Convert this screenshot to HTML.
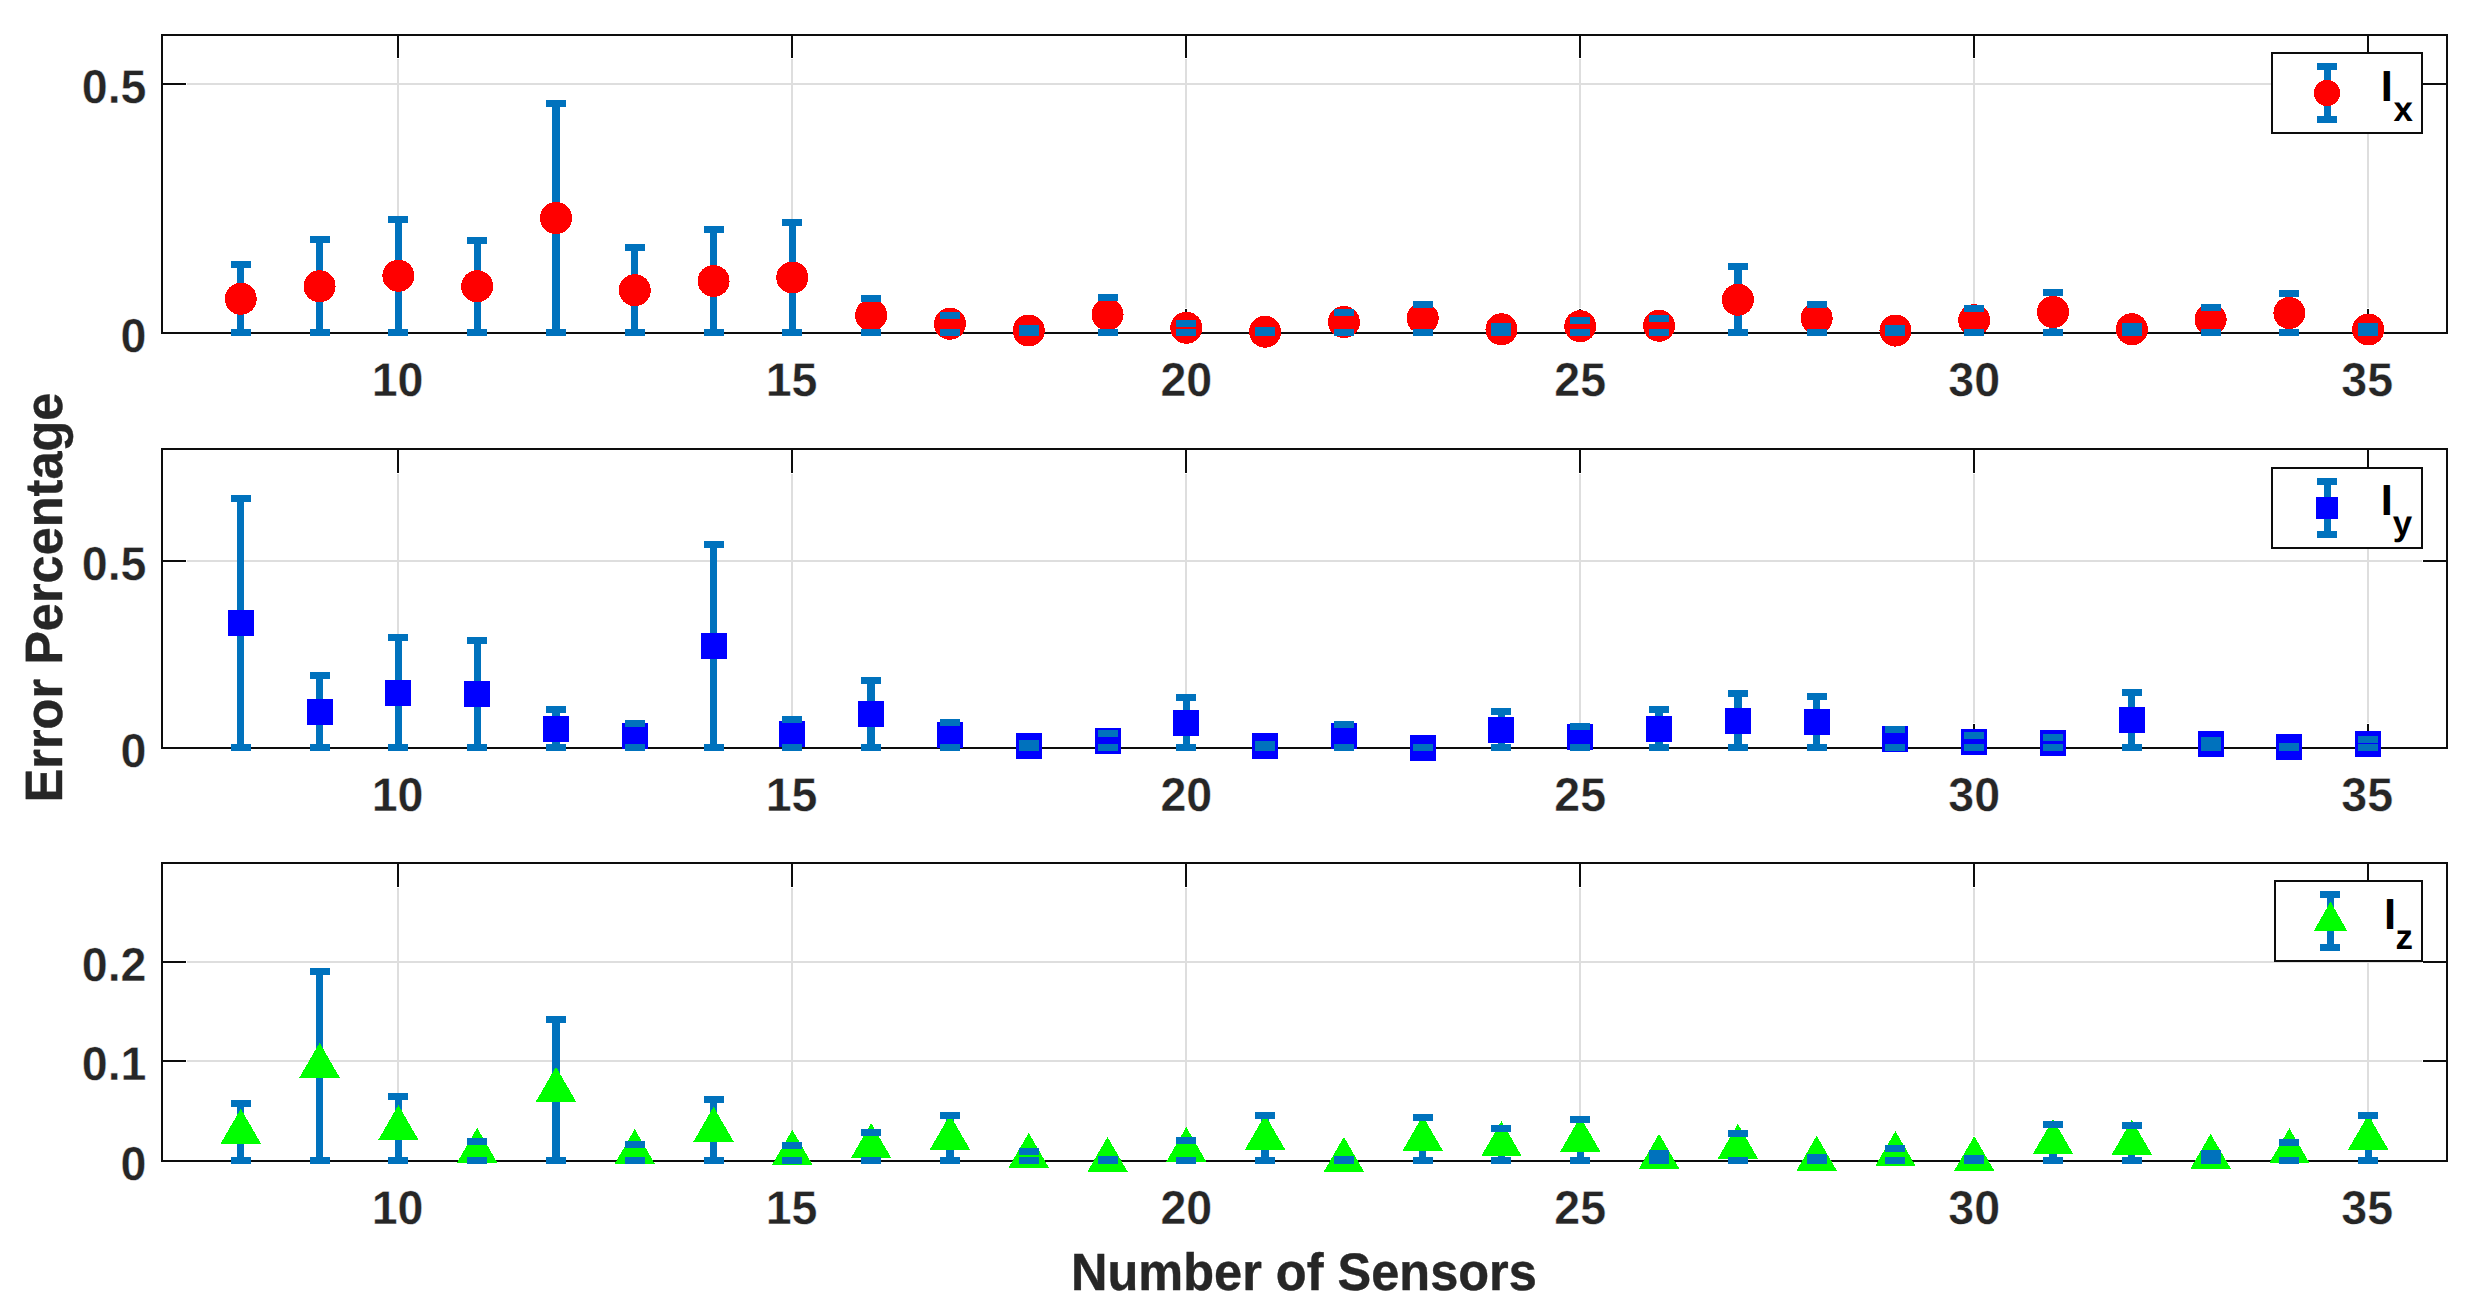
<!DOCTYPE html>
<html lang="en"><head><meta charset="utf-8"><title>Error Percentage vs Number of Sensors</title>
<style>html,body{margin:0;padding:0;background:#fff}svg{display:block}text{font-family:"Liberation Sans",sans-serif;font-weight:bold;text-rendering:geometricPrecision}.t{font-size:46.6px;fill:#262626;stroke:#fff;stroke-width:0.4px}.l{font-size:50.5px;fill:#262626;stroke:#262626;stroke-width:0.4px}.g{font-size:43.5px;fill:#000}.s{font-size:34.9px;fill:#000}</style></head><body>
<svg width="2492" height="1314" viewBox="0 0 2492 1314">
<rect width="2492" height="1314" fill="#fff"/>
<g shape-rendering="crispEdges">
<rect x="397" y="59" width="2" height="249" fill="#dedede"/>
<rect x="791" y="59" width="2" height="249" fill="#dedede"/>
<rect x="1185" y="59" width="2" height="249" fill="#dedede"/>
<rect x="1579" y="59" width="2" height="249" fill="#dedede"/>
<rect x="1973" y="59" width="2" height="249" fill="#dedede"/>
<rect x="2367" y="59" width="2" height="249" fill="#dedede"/>
<rect x="187" y="83" width="2235" height="2" fill="#dedede"/>
<rect x="162" y="35" width="2285" height="298" fill="none" stroke="#0d0d0d" stroke-width="2"/>
<rect x="397" y="309" width="2" height="24" fill="#0d0d0d"/>
<rect x="397" y="35" width="2" height="23" fill="#0d0d0d"/>
<rect x="791" y="309" width="2" height="24" fill="#0d0d0d"/>
<rect x="791" y="35" width="2" height="23" fill="#0d0d0d"/>
<rect x="1185" y="309" width="2" height="24" fill="#0d0d0d"/>
<rect x="1185" y="35" width="2" height="23" fill="#0d0d0d"/>
<rect x="1579" y="309" width="2" height="24" fill="#0d0d0d"/>
<rect x="1579" y="35" width="2" height="23" fill="#0d0d0d"/>
<rect x="1973" y="309" width="2" height="24" fill="#0d0d0d"/>
<rect x="1973" y="35" width="2" height="23" fill="#0d0d0d"/>
<rect x="2367" y="309" width="2" height="24" fill="#0d0d0d"/>
<rect x="2367" y="35" width="2" height="23" fill="#0d0d0d"/>
<rect x="162" y="83" width="24" height="2" fill="#0d0d0d"/>
<rect x="2423" y="83" width="24" height="2" fill="#0d0d0d"/>
<rect x="237" y="261" width="7" height="75" fill="#0072bd"/>
<rect x="316" y="236" width="7" height="100" fill="#0072bd"/>
<rect x="395" y="216" width="7" height="120" fill="#0072bd"/>
<rect x="474" y="237" width="7" height="99" fill="#0072bd"/>
<rect x="552" y="100" width="8" height="236" fill="#0072bd"/>
<rect x="631" y="244" width="7" height="92" fill="#0072bd"/>
<rect x="710" y="226" width="7" height="110" fill="#0072bd"/>
<rect x="789" y="219" width="7" height="117" fill="#0072bd"/>
<rect x="867" y="295" width="8" height="41" fill="#0072bd"/>
<rect x="946" y="312" width="8" height="24" fill="#0072bd"/>
<rect x="1025" y="325" width="7" height="11" fill="#0072bd"/>
<rect x="1104" y="294" width="7" height="42" fill="#0072bd"/>
<rect x="1183" y="320" width="7" height="16" fill="#0072bd"/>
<rect x="1261" y="327" width="8" height="9" fill="#0072bd"/>
<rect x="1340" y="309" width="8" height="27" fill="#0072bd"/>
<rect x="1419" y="301" width="7" height="35" fill="#0072bd"/>
<rect x="1498" y="323" width="7" height="13" fill="#0072bd"/>
<rect x="1577" y="317" width="7" height="19" fill="#0072bd"/>
<rect x="1655" y="315" width="8" height="21" fill="#0072bd"/>
<rect x="1734" y="263" width="8" height="73" fill="#0072bd"/>
<rect x="1813" y="301" width="7" height="35" fill="#0072bd"/>
<rect x="1892" y="325" width="7" height="11" fill="#0072bd"/>
<rect x="1971" y="305" width="7" height="31" fill="#0072bd"/>
<rect x="2049" y="289" width="8" height="47" fill="#0072bd"/>
<rect x="2128" y="323" width="7" height="13" fill="#0072bd"/>
<rect x="2207" y="304" width="7" height="32" fill="#0072bd"/>
<rect x="2286" y="290" width="7" height="46" fill="#0072bd"/>
<rect x="2365" y="323" width="7" height="13" fill="#0072bd"/>
<circle cx="240.79" cy="298.75" r="16" fill="#ff0000"/>
<circle cx="319.59" cy="286.25" r="16" fill="#ff0000"/>
<circle cx="398.38" cy="275.75" r="16" fill="#ff0000"/>
<circle cx="477.17" cy="286.25" r="16" fill="#ff0000"/>
<circle cx="555.97" cy="218" r="16" fill="#ff0000"/>
<circle cx="634.76" cy="290.25" r="16" fill="#ff0000"/>
<circle cx="713.55" cy="281" r="16" fill="#ff0000"/>
<circle cx="792.34" cy="277.5" r="16" fill="#ff0000"/>
<circle cx="871.14" cy="315.25" r="16" fill="#ff0000"/>
<circle cx="949.93" cy="323.75" r="16" fill="#ff0000"/>
<circle cx="1028.72" cy="330.5" r="16" fill="#ff0000"/>
<circle cx="1107.52" cy="314.5" r="16" fill="#ff0000"/>
<circle cx="1186.31" cy="327.75" r="16" fill="#ff0000"/>
<circle cx="1265.1" cy="331.75" r="16" fill="#ff0000"/>
<circle cx="1343.9" cy="322" r="16" fill="#ff0000"/>
<circle cx="1422.69" cy="318.25" r="16" fill="#ff0000"/>
<circle cx="1501.48" cy="329.25" r="16" fill="#ff0000"/>
<circle cx="1580.28" cy="326.25" r="16" fill="#ff0000"/>
<circle cx="1659.07" cy="325.75" r="16" fill="#ff0000"/>
<circle cx="1737.86" cy="299.75" r="16" fill="#ff0000"/>
<circle cx="1816.66" cy="318.25" r="16" fill="#ff0000"/>
<circle cx="1895.45" cy="330.6" r="16" fill="#ff0000"/>
<circle cx="1974.24" cy="320.25" r="16" fill="#ff0000"/>
<circle cx="2053.03" cy="312" r="16" fill="#ff0000"/>
<circle cx="2131.83" cy="329.25" r="16" fill="#ff0000"/>
<circle cx="2210.62" cy="319.5" r="16" fill="#ff0000"/>
<circle cx="2289.41" cy="313" r="16" fill="#ff0000"/>
<circle cx="2368.21" cy="329.5" r="16" fill="#ff0000"/>
<rect x="231" y="261" width="20" height="7" fill="#0072bd"/>
<rect x="231" y="329" width="20" height="7" fill="#0072bd"/>
<rect x="310" y="236" width="20" height="7" fill="#0072bd"/>
<rect x="310" y="329" width="20" height="7" fill="#0072bd"/>
<rect x="388" y="216" width="20" height="7" fill="#0072bd"/>
<rect x="388" y="329" width="20" height="7" fill="#0072bd"/>
<rect x="467" y="237" width="20" height="7" fill="#0072bd"/>
<rect x="467" y="329" width="20" height="7" fill="#0072bd"/>
<rect x="546" y="100" width="20" height="7" fill="#0072bd"/>
<rect x="546" y="329" width="20" height="7" fill="#0072bd"/>
<rect x="625" y="244" width="20" height="7" fill="#0072bd"/>
<rect x="625" y="329" width="20" height="7" fill="#0072bd"/>
<rect x="704" y="226" width="20" height="7" fill="#0072bd"/>
<rect x="704" y="329" width="20" height="7" fill="#0072bd"/>
<rect x="782" y="219" width="20" height="7" fill="#0072bd"/>
<rect x="782" y="329" width="20" height="7" fill="#0072bd"/>
<rect x="861" y="295" width="20" height="7" fill="#0072bd"/>
<rect x="861" y="329" width="20" height="7" fill="#0072bd"/>
<rect x="940" y="312" width="20" height="7" fill="#0072bd"/>
<rect x="940" y="329" width="20" height="7" fill="#0072bd"/>
<rect x="1019" y="325" width="20" height="7" fill="#0072bd"/>
<rect x="1019" y="329" width="20" height="7" fill="#0072bd"/>
<rect x="1098" y="294" width="20" height="7" fill="#0072bd"/>
<rect x="1098" y="329" width="20" height="7" fill="#0072bd"/>
<rect x="1176" y="320" width="20" height="7" fill="#0072bd"/>
<rect x="1176" y="329" width="20" height="7" fill="#0072bd"/>
<rect x="1255" y="327" width="20" height="7" fill="#0072bd"/>
<rect x="1255" y="329" width="20" height="7" fill="#0072bd"/>
<rect x="1334" y="309" width="20" height="7" fill="#0072bd"/>
<rect x="1334" y="329" width="20" height="7" fill="#0072bd"/>
<rect x="1413" y="301" width="20" height="7" fill="#0072bd"/>
<rect x="1413" y="329" width="20" height="7" fill="#0072bd"/>
<rect x="1491" y="323" width="20" height="7" fill="#0072bd"/>
<rect x="1491" y="329" width="20" height="7" fill="#0072bd"/>
<rect x="1570" y="317" width="20" height="7" fill="#0072bd"/>
<rect x="1570" y="329" width="20" height="7" fill="#0072bd"/>
<rect x="1649" y="315" width="20" height="7" fill="#0072bd"/>
<rect x="1649" y="329" width="20" height="7" fill="#0072bd"/>
<rect x="1728" y="263" width="20" height="7" fill="#0072bd"/>
<rect x="1728" y="329" width="20" height="7" fill="#0072bd"/>
<rect x="1807" y="301" width="20" height="7" fill="#0072bd"/>
<rect x="1807" y="329" width="20" height="7" fill="#0072bd"/>
<rect x="1885" y="325" width="20" height="7" fill="#0072bd"/>
<rect x="1885" y="329" width="20" height="7" fill="#0072bd"/>
<rect x="1964" y="305" width="20" height="7" fill="#0072bd"/>
<rect x="1964" y="329" width="20" height="7" fill="#0072bd"/>
<rect x="2043" y="289" width="20" height="7" fill="#0072bd"/>
<rect x="2043" y="329" width="20" height="7" fill="#0072bd"/>
<rect x="2122" y="323" width="20" height="7" fill="#0072bd"/>
<rect x="2122" y="329" width="20" height="7" fill="#0072bd"/>
<rect x="2201" y="304" width="20" height="7" fill="#0072bd"/>
<rect x="2201" y="329" width="20" height="7" fill="#0072bd"/>
<rect x="2279" y="290" width="20" height="7" fill="#0072bd"/>
<rect x="2279" y="329" width="20" height="7" fill="#0072bd"/>
<rect x="2358" y="323" width="20" height="7" fill="#0072bd"/>
<rect x="2358" y="329" width="20" height="7" fill="#0072bd"/>
</g>
<text class="t" transform="translate(397.58,396.3) scale(1,1.02)" text-anchor="middle">10</text>
<text class="t" transform="translate(791.54,396.3) scale(1,1.02)" text-anchor="middle">15</text>
<text class="t" transform="translate(1186.31,396.3) scale(1,1.02)" text-anchor="middle">20</text>
<text class="t" transform="translate(1580.28,396.3) scale(1,1.02)" text-anchor="middle">25</text>
<text class="t" transform="translate(1974.24,396.3) scale(1,1.02)" text-anchor="middle">30</text>
<text class="t" transform="translate(2367.21,396.3) scale(1,1.02)" text-anchor="middle">35</text>
<text class="t" transform="translate(146.5,351.9) scale(1,1.02)" text-anchor="end">0</text>
<text class="t" transform="translate(146.5,102.9) scale(1,1.02)" text-anchor="end">0.5</text>
<g shape-rendering="crispEdges">
<rect x="397" y="474" width="2" height="249" fill="#dedede"/>
<rect x="791" y="474" width="2" height="249" fill="#dedede"/>
<rect x="1185" y="474" width="2" height="249" fill="#dedede"/>
<rect x="1579" y="474" width="2" height="249" fill="#dedede"/>
<rect x="1973" y="474" width="2" height="249" fill="#dedede"/>
<rect x="2367" y="474" width="2" height="249" fill="#dedede"/>
<rect x="187" y="560" width="2235" height="2" fill="#dedede"/>
<rect x="162" y="449" width="2285" height="299" fill="none" stroke="#0d0d0d" stroke-width="2"/>
<rect x="397" y="724" width="2" height="24" fill="#0d0d0d"/>
<rect x="397" y="449" width="2" height="24" fill="#0d0d0d"/>
<rect x="791" y="724" width="2" height="24" fill="#0d0d0d"/>
<rect x="791" y="449" width="2" height="24" fill="#0d0d0d"/>
<rect x="1185" y="724" width="2" height="24" fill="#0d0d0d"/>
<rect x="1185" y="449" width="2" height="24" fill="#0d0d0d"/>
<rect x="1579" y="724" width="2" height="24" fill="#0d0d0d"/>
<rect x="1579" y="449" width="2" height="24" fill="#0d0d0d"/>
<rect x="1973" y="724" width="2" height="24" fill="#0d0d0d"/>
<rect x="1973" y="449" width="2" height="24" fill="#0d0d0d"/>
<rect x="2367" y="724" width="2" height="24" fill="#0d0d0d"/>
<rect x="2367" y="449" width="2" height="24" fill="#0d0d0d"/>
<rect x="162" y="560" width="24" height="2" fill="#0d0d0d"/>
<rect x="2423" y="560" width="24" height="2" fill="#0d0d0d"/>
<rect x="237" y="495" width="7" height="256" fill="#0072bd"/>
<rect x="316" y="672" width="7" height="79" fill="#0072bd"/>
<rect x="395" y="634" width="7" height="117" fill="#0072bd"/>
<rect x="474" y="637" width="7" height="114" fill="#0072bd"/>
<rect x="552" y="706" width="8" height="45" fill="#0072bd"/>
<rect x="631" y="720" width="7" height="31" fill="#0072bd"/>
<rect x="710" y="541" width="7" height="210" fill="#0072bd"/>
<rect x="789" y="716" width="7" height="35" fill="#0072bd"/>
<rect x="867" y="677" width="8" height="74" fill="#0072bd"/>
<rect x="946" y="719" width="8" height="32" fill="#0072bd"/>
<rect x="1025" y="740" width="7" height="11" fill="#0072bd"/>
<rect x="1104" y="730" width="7" height="21" fill="#0072bd"/>
<rect x="1183" y="694" width="7" height="57" fill="#0072bd"/>
<rect x="1261" y="741" width="8" height="10" fill="#0072bd"/>
<rect x="1340" y="721" width="8" height="30" fill="#0072bd"/>
<rect x="1419" y="744" width="7" height="7" fill="#0072bd"/>
<rect x="1498" y="708" width="7" height="43" fill="#0072bd"/>
<rect x="1577" y="723" width="7" height="28" fill="#0072bd"/>
<rect x="1655" y="706" width="8" height="45" fill="#0072bd"/>
<rect x="1734" y="690" width="8" height="61" fill="#0072bd"/>
<rect x="1813" y="693" width="7" height="58" fill="#0072bd"/>
<rect x="1892" y="726" width="7" height="25" fill="#0072bd"/>
<rect x="1971" y="732" width="7" height="19" fill="#0072bd"/>
<rect x="2049" y="734" width="8" height="17" fill="#0072bd"/>
<rect x="2128" y="689" width="7" height="62" fill="#0072bd"/>
<rect x="2207" y="737" width="7" height="14" fill="#0072bd"/>
<rect x="2286" y="743" width="7" height="8" fill="#0072bd"/>
<rect x="2365" y="736" width="7" height="15" fill="#0072bd"/>
<rect x="228" y="610" width="26" height="26" fill="#0000ff"/>
<rect x="307" y="699" width="26" height="26" fill="#0000ff"/>
<rect x="385" y="680" width="26" height="26" fill="#0000ff"/>
<rect x="464" y="681" width="26" height="26" fill="#0000ff"/>
<rect x="543" y="716" width="26" height="26" fill="#0000ff"/>
<rect x="622" y="723" width="26" height="26" fill="#0000ff"/>
<rect x="701" y="633" width="26" height="26" fill="#0000ff"/>
<rect x="779" y="721" width="26" height="26" fill="#0000ff"/>
<rect x="858" y="701" width="26" height="26" fill="#0000ff"/>
<rect x="937" y="722" width="26" height="26" fill="#0000ff"/>
<rect x="1016" y="733" width="26" height="26" fill="#0000ff"/>
<rect x="1095" y="728" width="26" height="26" fill="#0000ff"/>
<rect x="1173" y="710" width="26" height="26" fill="#0000ff"/>
<rect x="1252" y="733" width="26" height="26" fill="#0000ff"/>
<rect x="1331" y="723" width="26" height="26" fill="#0000ff"/>
<rect x="1410" y="735" width="26" height="26" fill="#0000ff"/>
<rect x="1488" y="717" width="26" height="26" fill="#0000ff"/>
<rect x="1567" y="724" width="26" height="26" fill="#0000ff"/>
<rect x="1646" y="716" width="26" height="26" fill="#0000ff"/>
<rect x="1725" y="708" width="26" height="26" fill="#0000ff"/>
<rect x="1804" y="709" width="26" height="26" fill="#0000ff"/>
<rect x="1882" y="726" width="26" height="26" fill="#0000ff"/>
<rect x="1961" y="729" width="26" height="26" fill="#0000ff"/>
<rect x="2040" y="730" width="26" height="26" fill="#0000ff"/>
<rect x="2119" y="707" width="26" height="26" fill="#0000ff"/>
<rect x="2198" y="731" width="26" height="26" fill="#0000ff"/>
<rect x="2276" y="734" width="26" height="26" fill="#0000ff"/>
<rect x="2355" y="731" width="26" height="26" fill="#0000ff"/>
<rect x="231" y="495" width="20" height="7" fill="#0072bd"/>
<rect x="231" y="744" width="20" height="7" fill="#0072bd"/>
<rect x="310" y="672" width="20" height="7" fill="#0072bd"/>
<rect x="310" y="744" width="20" height="7" fill="#0072bd"/>
<rect x="388" y="634" width="20" height="7" fill="#0072bd"/>
<rect x="388" y="744" width="20" height="7" fill="#0072bd"/>
<rect x="467" y="637" width="20" height="7" fill="#0072bd"/>
<rect x="467" y="744" width="20" height="7" fill="#0072bd"/>
<rect x="546" y="706" width="20" height="7" fill="#0072bd"/>
<rect x="546" y="744" width="20" height="7" fill="#0072bd"/>
<rect x="625" y="720" width="20" height="7" fill="#0072bd"/>
<rect x="625" y="744" width="20" height="7" fill="#0072bd"/>
<rect x="704" y="541" width="20" height="7" fill="#0072bd"/>
<rect x="704" y="744" width="20" height="7" fill="#0072bd"/>
<rect x="782" y="716" width="20" height="7" fill="#0072bd"/>
<rect x="782" y="744" width="20" height="7" fill="#0072bd"/>
<rect x="861" y="677" width="20" height="7" fill="#0072bd"/>
<rect x="861" y="744" width="20" height="7" fill="#0072bd"/>
<rect x="940" y="719" width="20" height="7" fill="#0072bd"/>
<rect x="940" y="744" width="20" height="7" fill="#0072bd"/>
<rect x="1019" y="740" width="20" height="7" fill="#0072bd"/>
<rect x="1019" y="744" width="20" height="7" fill="#0072bd"/>
<rect x="1098" y="730" width="20" height="7" fill="#0072bd"/>
<rect x="1098" y="744" width="20" height="7" fill="#0072bd"/>
<rect x="1176" y="694" width="20" height="7" fill="#0072bd"/>
<rect x="1176" y="744" width="20" height="7" fill="#0072bd"/>
<rect x="1255" y="741" width="20" height="7" fill="#0072bd"/>
<rect x="1255" y="744" width="20" height="7" fill="#0072bd"/>
<rect x="1334" y="721" width="20" height="7" fill="#0072bd"/>
<rect x="1334" y="744" width="20" height="7" fill="#0072bd"/>
<rect x="1413" y="744" width="20" height="7" fill="#0072bd"/>
<rect x="1413" y="744" width="20" height="7" fill="#0072bd"/>
<rect x="1491" y="708" width="20" height="7" fill="#0072bd"/>
<rect x="1491" y="744" width="20" height="7" fill="#0072bd"/>
<rect x="1570" y="723" width="20" height="7" fill="#0072bd"/>
<rect x="1570" y="744" width="20" height="7" fill="#0072bd"/>
<rect x="1649" y="706" width="20" height="7" fill="#0072bd"/>
<rect x="1649" y="744" width="20" height="7" fill="#0072bd"/>
<rect x="1728" y="690" width="20" height="7" fill="#0072bd"/>
<rect x="1728" y="744" width="20" height="7" fill="#0072bd"/>
<rect x="1807" y="693" width="20" height="7" fill="#0072bd"/>
<rect x="1807" y="744" width="20" height="7" fill="#0072bd"/>
<rect x="1885" y="726" width="20" height="7" fill="#0072bd"/>
<rect x="1885" y="744" width="20" height="7" fill="#0072bd"/>
<rect x="1964" y="732" width="20" height="7" fill="#0072bd"/>
<rect x="1964" y="744" width="20" height="7" fill="#0072bd"/>
<rect x="2043" y="734" width="20" height="7" fill="#0072bd"/>
<rect x="2043" y="744" width="20" height="7" fill="#0072bd"/>
<rect x="2122" y="689" width="20" height="7" fill="#0072bd"/>
<rect x="2122" y="744" width="20" height="7" fill="#0072bd"/>
<rect x="2201" y="737" width="20" height="7" fill="#0072bd"/>
<rect x="2201" y="744" width="20" height="7" fill="#0072bd"/>
<rect x="2279" y="743" width="20" height="7" fill="#0072bd"/>
<rect x="2279" y="744" width="20" height="7" fill="#0072bd"/>
<rect x="2358" y="736" width="20" height="7" fill="#0072bd"/>
<rect x="2358" y="744" width="20" height="7" fill="#0072bd"/>
</g>
<text class="t" transform="translate(397.58,811.3) scale(1,1.02)" text-anchor="middle">10</text>
<text class="t" transform="translate(791.54,811.3) scale(1,1.02)" text-anchor="middle">15</text>
<text class="t" transform="translate(1186.31,811.3) scale(1,1.02)" text-anchor="middle">20</text>
<text class="t" transform="translate(1580.28,811.3) scale(1,1.02)" text-anchor="middle">25</text>
<text class="t" transform="translate(1974.24,811.3) scale(1,1.02)" text-anchor="middle">30</text>
<text class="t" transform="translate(2367.21,811.3) scale(1,1.02)" text-anchor="middle">35</text>
<text class="t" transform="translate(146.5,766.9) scale(1,1.02)" text-anchor="end">0</text>
<text class="t" transform="translate(146.5,579.9) scale(1,1.02)" text-anchor="end">0.5</text>
<g shape-rendering="crispEdges">
<rect x="397" y="888" width="2" height="248" fill="#dedede"/>
<rect x="791" y="888" width="2" height="248" fill="#dedede"/>
<rect x="1185" y="888" width="2" height="248" fill="#dedede"/>
<rect x="1579" y="888" width="2" height="248" fill="#dedede"/>
<rect x="1973" y="888" width="2" height="248" fill="#dedede"/>
<rect x="2367" y="888" width="2" height="248" fill="#dedede"/>
<rect x="187" y="1060" width="2235" height="2" fill="#dedede"/>
<rect x="187" y="961" width="2235" height="2" fill="#dedede"/>
<rect x="162" y="863" width="2285" height="298" fill="none" stroke="#0d0d0d" stroke-width="2"/>
<rect x="397" y="1137" width="2" height="24" fill="#0d0d0d"/>
<rect x="397" y="863" width="2" height="24" fill="#0d0d0d"/>
<rect x="791" y="1137" width="2" height="24" fill="#0d0d0d"/>
<rect x="791" y="863" width="2" height="24" fill="#0d0d0d"/>
<rect x="1185" y="1137" width="2" height="24" fill="#0d0d0d"/>
<rect x="1185" y="863" width="2" height="24" fill="#0d0d0d"/>
<rect x="1579" y="1137" width="2" height="24" fill="#0d0d0d"/>
<rect x="1579" y="863" width="2" height="24" fill="#0d0d0d"/>
<rect x="1973" y="1137" width="2" height="24" fill="#0d0d0d"/>
<rect x="1973" y="863" width="2" height="24" fill="#0d0d0d"/>
<rect x="2367" y="1137" width="2" height="24" fill="#0d0d0d"/>
<rect x="2367" y="863" width="2" height="24" fill="#0d0d0d"/>
<rect x="162" y="1060" width="24" height="2" fill="#0d0d0d"/>
<rect x="2423" y="1060" width="24" height="2" fill="#0d0d0d"/>
<rect x="162" y="961" width="24" height="2" fill="#0d0d0d"/>
<rect x="2423" y="961" width="24" height="2" fill="#0d0d0d"/>
<rect x="237" y="1100" width="7" height="64" fill="#0072bd"/>
<rect x="316" y="968" width="7" height="196" fill="#0072bd"/>
<rect x="395" y="1093" width="7" height="71" fill="#0072bd"/>
<rect x="474" y="1138" width="7" height="26" fill="#0072bd"/>
<rect x="552" y="1016" width="8" height="148" fill="#0072bd"/>
<rect x="631" y="1141" width="7" height="23" fill="#0072bd"/>
<rect x="710" y="1096" width="7" height="68" fill="#0072bd"/>
<rect x="789" y="1142" width="7" height="22" fill="#0072bd"/>
<rect x="867" y="1129" width="8" height="35" fill="#0072bd"/>
<rect x="946" y="1112" width="8" height="52" fill="#0072bd"/>
<rect x="1025" y="1148" width="7" height="16" fill="#0072bd"/>
<rect x="1104" y="1156" width="7" height="8" fill="#0072bd"/>
<rect x="1183" y="1137" width="7" height="27" fill="#0072bd"/>
<rect x="1261" y="1112" width="8" height="52" fill="#0072bd"/>
<rect x="1340" y="1156" width="8" height="8" fill="#0072bd"/>
<rect x="1419" y="1114" width="7" height="50" fill="#0072bd"/>
<rect x="1498" y="1125" width="7" height="39" fill="#0072bd"/>
<rect x="1577" y="1116" width="7" height="48" fill="#0072bd"/>
<rect x="1655" y="1150" width="8" height="14" fill="#0072bd"/>
<rect x="1734" y="1130" width="8" height="34" fill="#0072bd"/>
<rect x="1813" y="1154" width="7" height="10" fill="#0072bd"/>
<rect x="1892" y="1145" width="7" height="19" fill="#0072bd"/>
<rect x="1971" y="1155" width="7" height="9" fill="#0072bd"/>
<rect x="2049" y="1121" width="8" height="43" fill="#0072bd"/>
<rect x="2128" y="1122" width="7" height="42" fill="#0072bd"/>
<rect x="2207" y="1150" width="7" height="14" fill="#0072bd"/>
<rect x="2286" y="1139" width="7" height="25" fill="#0072bd"/>
<rect x="2365" y="1112" width="7" height="52" fill="#0072bd"/>
<polygon points="240.79,1108.67 220.59,1143.67 260.99,1143.67" fill="#00ff00"/>
<polygon points="319.59,1042.67 299.39,1077.67 339.79,1077.67" fill="#00ff00"/>
<polygon points="398.38,1105.07 378.18,1140.07 418.58,1140.07" fill="#00ff00"/>
<polygon points="477.17,1127.77 456.97,1162.77 497.37,1162.77" fill="#00ff00"/>
<polygon points="555.97,1066.77 535.77,1101.77 576.17,1101.77" fill="#00ff00"/>
<polygon points="634.76,1129.07 614.56,1164.07 654.96,1164.07" fill="#00ff00"/>
<polygon points="713.55,1106.77 693.35,1141.77 733.75,1141.77" fill="#00ff00"/>
<polygon points="792.34,1129.77 772.14,1164.77 812.54,1164.77" fill="#00ff00"/>
<polygon points="871.14,1123.07 850.94,1158.07 891.34,1158.07" fill="#00ff00"/>
<polygon points="949.93,1114.77 929.73,1149.77 970.13,1149.77" fill="#00ff00"/>
<polygon points="1028.72,1132.77 1008.52,1167.77 1048.92,1167.77" fill="#00ff00"/>
<polygon points="1107.52,1136.87 1087.32,1171.87 1127.72,1171.87" fill="#00ff00"/>
<polygon points="1186.31,1127.07 1166.11,1162.07 1206.51,1162.07" fill="#00ff00"/>
<polygon points="1265.1,1114.77 1244.9,1149.77 1285.3,1149.77" fill="#00ff00"/>
<polygon points="1343.9,1136.87 1323.7,1171.87 1364.1,1171.87" fill="#00ff00"/>
<polygon points="1422.69,1115.77 1402.49,1150.77 1442.89,1150.77" fill="#00ff00"/>
<polygon points="1501.48,1121.07 1481.28,1156.07 1521.68,1156.07" fill="#00ff00"/>
<polygon points="1580.28,1116.77 1560.08,1151.77 1600.48,1151.77" fill="#00ff00"/>
<polygon points="1659.07,1133.77 1638.87,1168.77 1679.27,1168.77" fill="#00ff00"/>
<polygon points="1737.86,1123.77 1717.66,1158.77 1758.06,1158.77" fill="#00ff00"/>
<polygon points="1816.66,1135.77 1796.46,1170.77 1836.86,1170.77" fill="#00ff00"/>
<polygon points="1895.45,1131.07 1875.25,1166.07 1915.65,1166.07" fill="#00ff00"/>
<polygon points="1974.24,1136.07 1954.04,1171.07 1994.44,1171.07" fill="#00ff00"/>
<polygon points="2053.03,1119.07 2032.83,1154.07 2073.23,1154.07" fill="#00ff00"/>
<polygon points="2131.83,1119.77 2111.63,1154.77 2152.03,1154.77" fill="#00ff00"/>
<polygon points="2210.62,1133.77 2190.42,1168.77 2230.82,1168.77" fill="#00ff00"/>
<polygon points="2289.41,1128.17 2269.21,1163.17 2309.61,1163.17" fill="#00ff00"/>
<polygon points="2368.21,1114.77 2348.01,1149.77 2388.41,1149.77" fill="#00ff00"/>
<rect x="231" y="1100" width="20" height="7" fill="#0072bd"/>
<rect x="231" y="1157" width="20" height="7" fill="#0072bd"/>
<rect x="310" y="968" width="20" height="7" fill="#0072bd"/>
<rect x="310" y="1157" width="20" height="7" fill="#0072bd"/>
<rect x="388" y="1093" width="20" height="7" fill="#0072bd"/>
<rect x="388" y="1157" width="20" height="7" fill="#0072bd"/>
<rect x="467" y="1138" width="20" height="7" fill="#0072bd"/>
<rect x="467" y="1157" width="20" height="7" fill="#0072bd"/>
<rect x="546" y="1016" width="20" height="7" fill="#0072bd"/>
<rect x="546" y="1157" width="20" height="7" fill="#0072bd"/>
<rect x="625" y="1141" width="20" height="7" fill="#0072bd"/>
<rect x="625" y="1157" width="20" height="7" fill="#0072bd"/>
<rect x="704" y="1096" width="20" height="7" fill="#0072bd"/>
<rect x="704" y="1157" width="20" height="7" fill="#0072bd"/>
<rect x="782" y="1142" width="20" height="7" fill="#0072bd"/>
<rect x="782" y="1157" width="20" height="7" fill="#0072bd"/>
<rect x="861" y="1129" width="20" height="7" fill="#0072bd"/>
<rect x="861" y="1157" width="20" height="7" fill="#0072bd"/>
<rect x="940" y="1112" width="20" height="7" fill="#0072bd"/>
<rect x="940" y="1157" width="20" height="7" fill="#0072bd"/>
<rect x="1019" y="1148" width="20" height="7" fill="#0072bd"/>
<rect x="1019" y="1157" width="20" height="7" fill="#0072bd"/>
<rect x="1098" y="1156" width="20" height="7" fill="#0072bd"/>
<rect x="1098" y="1157" width="20" height="7" fill="#0072bd"/>
<rect x="1176" y="1137" width="20" height="7" fill="#0072bd"/>
<rect x="1176" y="1157" width="20" height="7" fill="#0072bd"/>
<rect x="1255" y="1112" width="20" height="7" fill="#0072bd"/>
<rect x="1255" y="1157" width="20" height="7" fill="#0072bd"/>
<rect x="1334" y="1156" width="20" height="7" fill="#0072bd"/>
<rect x="1334" y="1157" width="20" height="7" fill="#0072bd"/>
<rect x="1413" y="1114" width="20" height="7" fill="#0072bd"/>
<rect x="1413" y="1157" width="20" height="7" fill="#0072bd"/>
<rect x="1491" y="1125" width="20" height="7" fill="#0072bd"/>
<rect x="1491" y="1157" width="20" height="7" fill="#0072bd"/>
<rect x="1570" y="1116" width="20" height="7" fill="#0072bd"/>
<rect x="1570" y="1157" width="20" height="7" fill="#0072bd"/>
<rect x="1649" y="1150" width="20" height="7" fill="#0072bd"/>
<rect x="1649" y="1157" width="20" height="7" fill="#0072bd"/>
<rect x="1728" y="1130" width="20" height="7" fill="#0072bd"/>
<rect x="1728" y="1157" width="20" height="7" fill="#0072bd"/>
<rect x="1807" y="1154" width="20" height="7" fill="#0072bd"/>
<rect x="1807" y="1157" width="20" height="7" fill="#0072bd"/>
<rect x="1885" y="1145" width="20" height="7" fill="#0072bd"/>
<rect x="1885" y="1157" width="20" height="7" fill="#0072bd"/>
<rect x="1964" y="1155" width="20" height="7" fill="#0072bd"/>
<rect x="1964" y="1157" width="20" height="7" fill="#0072bd"/>
<rect x="2043" y="1121" width="20" height="7" fill="#0072bd"/>
<rect x="2043" y="1157" width="20" height="7" fill="#0072bd"/>
<rect x="2122" y="1122" width="20" height="7" fill="#0072bd"/>
<rect x="2122" y="1157" width="20" height="7" fill="#0072bd"/>
<rect x="2201" y="1150" width="20" height="7" fill="#0072bd"/>
<rect x="2201" y="1157" width="20" height="7" fill="#0072bd"/>
<rect x="2279" y="1139" width="20" height="7" fill="#0072bd"/>
<rect x="2279" y="1157" width="20" height="7" fill="#0072bd"/>
<rect x="2358" y="1112" width="20" height="7" fill="#0072bd"/>
<rect x="2358" y="1157" width="20" height="7" fill="#0072bd"/>
</g>
<text class="t" transform="translate(397.58,1224.3) scale(1,1.02)" text-anchor="middle">10</text>
<text class="t" transform="translate(791.54,1224.3) scale(1,1.02)" text-anchor="middle">15</text>
<text class="t" transform="translate(1186.31,1224.3) scale(1,1.02)" text-anchor="middle">20</text>
<text class="t" transform="translate(1580.28,1224.3) scale(1,1.02)" text-anchor="middle">25</text>
<text class="t" transform="translate(1974.24,1224.3) scale(1,1.02)" text-anchor="middle">30</text>
<text class="t" transform="translate(2367.21,1224.3) scale(1,1.02)" text-anchor="middle">35</text>
<text class="t" transform="translate(146.5,1179.9) scale(1,1.02)" text-anchor="end">0</text>
<text class="t" transform="translate(146.5,1079.9) scale(1,1.02)" text-anchor="end">0.1</text>
<text class="t" transform="translate(146.5,980.9) scale(1,1.02)" text-anchor="end">0.2</text>
<g shape-rendering="crispEdges">
<rect x="2272" y="53" width="150" height="80" fill="#fff" stroke="#0d0d0d" stroke-width="2"/>
<rect x="2324" y="63" width="7" height="60" fill="#0072bd"/>
<circle cx="2327" cy="93" r="13.2" fill="#ff0000"/>
<rect x="2317" y="63" width="20" height="7" fill="#0072bd"/>
<rect x="2317" y="116" width="20" height="7" fill="#0072bd"/>
</g>
<text class="g" x="2380.8" y="100.9">I</text><text class="s" x="2393.6" y="120.8">x</text>
<g shape-rendering="crispEdges">
<rect x="2272" y="468" width="150" height="80" fill="#fff" stroke="#0d0d0d" stroke-width="2"/>
<rect x="2324" y="478" width="7" height="60" fill="#0072bd"/>
<rect x="2316" y="497" width="22" height="22" fill="#0000ff"/>
<rect x="2317" y="478" width="20" height="7" fill="#0072bd"/>
<rect x="2317" y="531" width="20" height="7" fill="#0072bd"/>
</g>
<text class="g" x="2380.8" y="514.7">I</text><text class="s" x="2392.8" y="534.5">y</text>
<g shape-rendering="crispEdges">
<rect x="2275" y="881" width="147" height="80" fill="#fff" stroke="#0d0d0d" stroke-width="2"/>
<rect x="2327" y="891" width="7" height="60" fill="#0072bd"/>
<polygon points="2330.5,901.7 2313.9,930.7 2347.1,930.7" fill="#00ff00"/>
<rect x="2320" y="891" width="20" height="7" fill="#0072bd"/>
<rect x="2320" y="944" width="20" height="7" fill="#0072bd"/>
</g>
<text class="g" x="2383.9" y="928.95">I</text><text class="s" x="2395.6" y="948.8">z</text>
<text class="l" transform="translate(1303.9,1290.3) scale(1,1.04)" text-anchor="middle">Number of Sensors</text>
<text class="l" transform="translate(61.6,597.5) rotate(-90) scale(1,1.04)" text-anchor="middle">Error Percentage</text>
</svg></body></html>
